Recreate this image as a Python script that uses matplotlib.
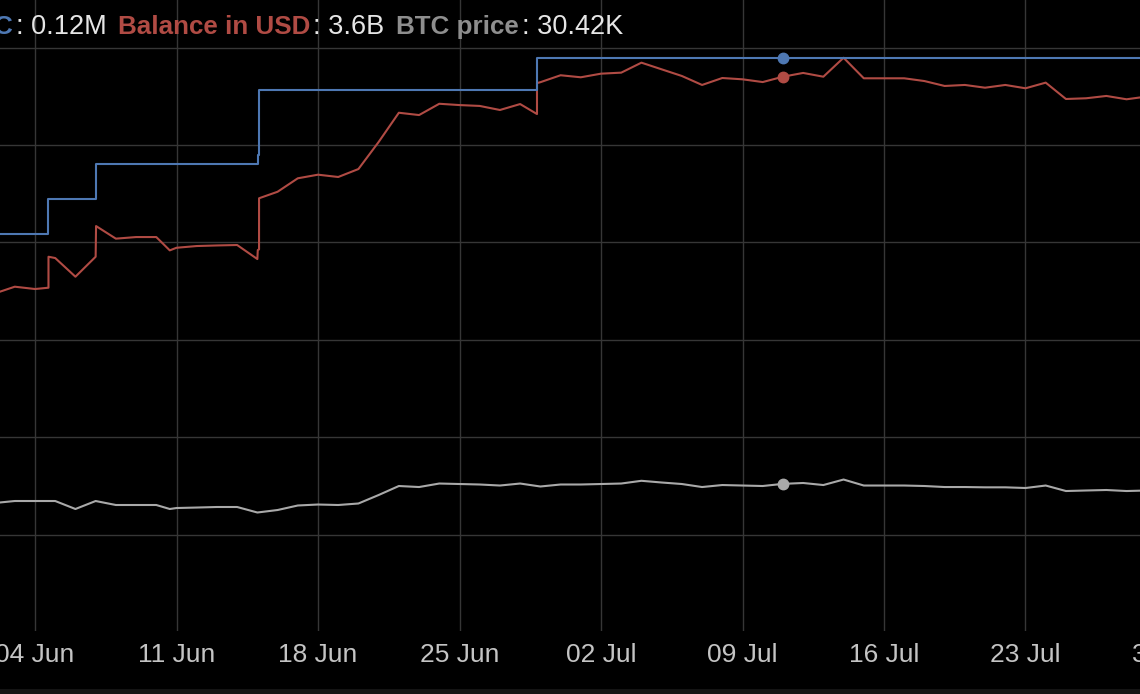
import datetime as dt

import matplotlib
matplotlib.use("Agg")
import matplotlib.pyplot as plt
import matplotlib.dates as mdates
from matplotlib.patches import Rectangle


def d(s):
    return dt.datetime.strptime("2023-" + s, "%Y-%m-%d %H:%M")


# balance in BTC (thousand BTC), step changes
btc_times = ["06-02 00:00", "06-04 16:00", "06-07 00:30", "06-15 00:30", "06-15 01:30",
             "06-28 20:00", "07-29 00:00"]
btc_k = [76.15, 84.9, 93.65, 95.8, 112.0, 120.0, 120.0]

# balance in USD (billion)
usd_times = ["06-02 00:00", "06-03 00:00", "06-04 00:00", "06-04 16:00", "06-04 16:01",
             "06-05 00:00", "06-06 00:00", "06-07 00:00", "06-07 00:30", "06-08 00:00",
             "06-09 00:00", "06-10 00:00", "06-10 16:00", "06-11 00:00", "06-12 00:00",
             "06-13 00:00", "06-14 00:00", "06-15 00:00", "06-15 00:30", "06-15 02:00",
             "06-15 02:01", "06-16 00:00", "06-17 00:00", "06-18 00:00", "06-19 00:00",
             "06-20 00:00", "06-21 00:00", "06-22 00:00", "06-23 00:00", "06-24 00:00",
             "06-25 00:00", "06-26 00:00", "06-27 00:00", "06-28 00:00", "06-28 20:00",
             "06-28 20:01", "06-29 00:00", "06-30 00:00", "07-01 00:00", "07-02 00:00",
             "07-03 00:00", "07-04 00:00", "07-05 00:00", "07-06 00:00", "07-07 00:00",
             "07-08 00:00", "07-09 00:00", "07-10 00:00", "07-11 00:00", "07-12 00:00",
             "07-13 00:00", "07-14 00:00", "07-15 00:00", "07-16 00:00", "07-17 00:00",
             "07-18 00:00", "07-19 00:00", "07-20 00:00", "07-21 00:00", "07-22 00:00",
             "07-23 00:00", "07-24 00:00", "07-25 00:00", "07-26 00:00", "07-27 00:00",
             "07-28 00:00", "07-29 00:00"]
usd_bn = [2.152, 2.199, 2.183, 2.192, 2.406,
          2.397, 2.268, 2.406, 2.618, 2.531,
          2.542, 2.542, 2.450, 2.468, 2.480,
          2.484, 2.487, 2.390, 2.452, 2.457,
          2.810, 2.855, 2.948, 2.973, 2.957,
          3.012, 3.199, 3.401, 3.385, 3.463,
          3.454, 3.448, 3.420, 3.461, 3.392,
          3.606, 3.612, 3.660, 3.646, 3.671,
          3.678, 3.747, 3.701, 3.655, 3.593,
          3.641, 3.632, 3.613, 3.650, 3.676,
          3.650, 3.781, 3.639, 3.639, 3.639,
          3.620, 3.586, 3.593, 3.574, 3.593,
          3.570, 3.609, 3.496, 3.501, 3.517,
          3.494, 3.513]

# BTC price (thousand USD)
price_times = ["06-02 00:00", "06-03 00:00", "06-04 00:00", "06-05 00:00", "06-06 00:00",
               "06-07 00:00", "06-08 00:00", "06-09 00:00", "06-10 00:00", "06-10 16:00",
               "06-11 00:00", "06-12 00:00", "06-13 00:00", "06-14 00:00", "06-15 00:00",
               "06-16 00:00", "06-17 00:00", "06-18 00:00", "06-19 00:00", "06-20 00:00",
               "06-21 00:00", "06-22 00:00", "06-23 00:00", "06-24 00:00", "06-25 00:00",
               "06-26 00:00", "06-27 00:00", "06-28 00:00", "06-29 00:00", "06-30 00:00",
               "07-01 00:00", "07-02 00:00", "07-03 00:00", "07-04 00:00", "07-05 00:00",
               "07-06 00:00", "07-07 00:00", "07-08 00:00", "07-09 00:00", "07-10 00:00",
               "07-11 00:00", "07-12 00:00", "07-13 00:00", "07-14 00:00", "07-15 00:00",
               "07-16 00:00", "07-17 00:00", "07-18 00:00", "07-19 00:00", "07-20 00:00",
               "07-21 00:00", "07-22 00:00", "07-23 00:00", "07-24 00:00", "07-25 00:00",
               "07-26 00:00", "07-27 00:00", "07-28 00:00", "07-29 00:00"]
price_k = [26.49, 26.90, 26.90, 26.90, 25.26,
           26.90, 26.08, 26.08, 26.08, 25.26,
           25.46, 25.56, 25.67, 25.67, 24.54,
           25.05, 25.98, 26.18, 26.08, 26.39,
           28.13, 29.98, 29.77, 30.49, 30.39,
           30.29, 30.08, 30.49, 29.88, 30.29,
           30.29, 30.39, 30.49, 31.05, 30.70,
           30.39, 29.77, 30.18, 30.08, 29.98,
           30.42, 30.60, 30.18, 31.31, 30.08,
           30.08, 30.08, 29.98, 29.77, 29.77,
           29.71, 29.71, 29.57, 30.08, 28.95,
           29.06, 29.16, 28.95, 29.06]

hover = "07-11 00:00"
legend_parts = [("Balance in BTC", ": 0.12M"), ("Balance in USD", ": 3.6B"),
                ("BTC price", ": 30.42K")]

BLUE = "#4e78b3"
RED = "#b04b44"
GREY = "#a9a9a9"
GREY_TXT = "#8e8e8e"
TXT = "#e6e6e6"
GRID = "#363636"
FONT = "Liberation Sans"

W, H = 1140, 694
fig = plt.figure(figsize=(W / 100, H / 100), dpi=100, facecolor="black")
ax = fig.add_axes([0, 63 / H, 1240 / W, 631 / H])
ax.set_facecolor("black")

# price axis carries the grid
ax.plot([d(t) for t in price_times], price_k, color=GREY, lw=1.5, zorder=3)
ax.set_ylim(0.21, 129.77)
ax.set_yticks([20, 40, 60, 80, 100, 120])
ax.set_yticklabels([])
ax.tick_params(axis="y", length=0)
ax.grid(True, color=GRID, lw=1.0)
ax.set_axisbelow(True)

ax_usd = ax.twinx()
ax_usd.plot([d(t) for t in usd_times], usd_bn, color=RED, lw=1.5, zorder=3)
ax_usd.set_ylim(-0.180, 4.180)

ax_btc = ax.twinx()
ax_btc.step([d(t) for t in btc_times], btc_k, where="post", color=BLUE, lw=1.5, zorder=3)
ax_btc.set_ylim(-23.2, 134.575)

# hover markers
ht = d(hover)
ax.plot([ht], [price_k[price_times.index(hover)]], "o", color=GREY, ms=7.5, zorder=5)
ax_usd.plot([ht], [usd_bn[usd_times.index(hover)]], "o", color=RED, ms=7.5, zorder=5)
ax_btc.plot([ht], [btc_k[-2]], "o", color=BLUE, ms=7.5, zorder=5)

for a in (ax, ax_usd, ax_btc):
    for s in a.spines.values():
        s.set_visible(False)
for a in (ax_usd, ax_btc):
    a.set_yticks([])

x0 = d("06-04 00:00")
px_day = 141.5 / 7
ax.set_xlim(x0 - dt.timedelta(days=35 / px_day), x0 + dt.timedelta(days=(1240 - 35) / px_day))
ax.xaxis.set_major_locator(mdates.WeekdayLocator(byweekday=mdates.SU))
ax.xaxis.set_major_formatter(mdates.DateFormatter("%d %b"))
ax.tick_params(axis="x", length=0, pad=9, labelsize=19, labelcolor="#c4c4c4")
for lab in ax.get_xticklabels():
    lab.set_fontfamily(FONT)

fig.patches.append(Rectangle((0, 0), 1, 5 / H, transform=fig.transFigure,
                             facecolor="#141414", edgecolor="none"))

# legend line at top
fig.canvas.draw()
r = fig.canvas.get_renderer()
base_y = 1 - 34 / H
colors = [BLUE, RED, GREY_TXT]
x = 12.5
for i, (name, val) in enumerate(legend_parts):
    t = fig.text(x / W, base_y, name, color=colors[i], fontsize=18.75, fontweight="bold",
                 family=FONT, ha="right" if i == 0 else "left", va="baseline")
    bb = t.get_window_extent(renderer=r)
    t2 = fig.text((bb.x1 + 3) / W, base_y, val, color=TXT, fontsize=19.5, family=FONT,
                  ha="left", va="baseline")
    x = t2.get_window_extent(renderer=r).x1 + 11.5

fig.savefig("out.png", dpi=100, facecolor="black")
